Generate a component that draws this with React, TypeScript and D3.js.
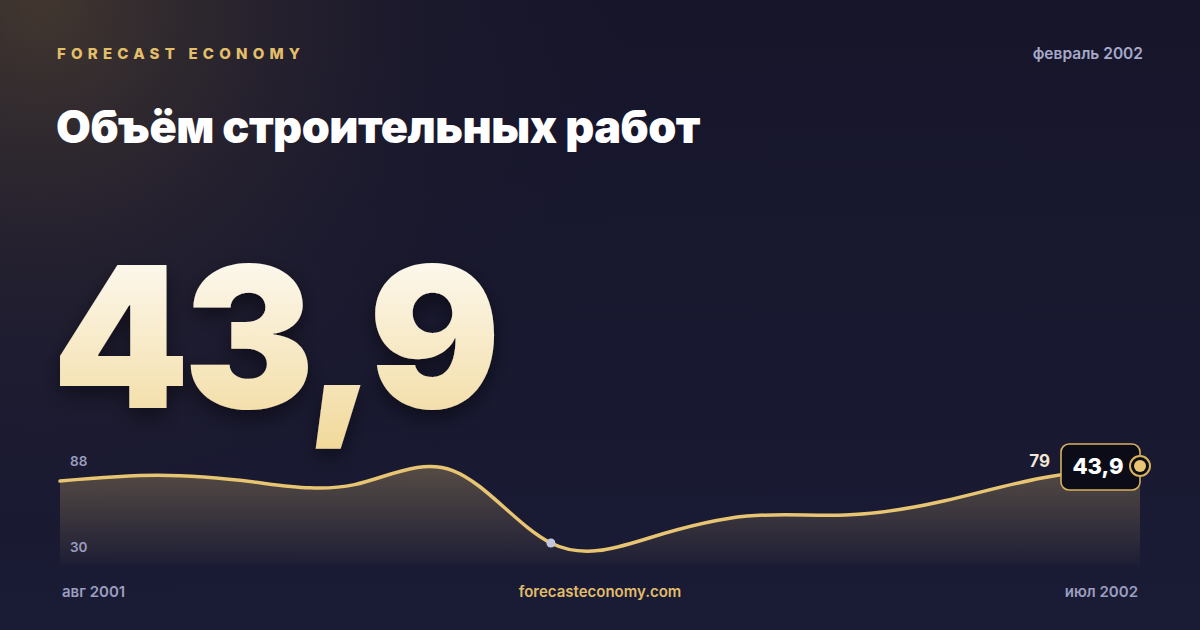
import React, { useEffect, useRef } from 'react';
import * as d3 from 'd3';

const MONTHS = ['авг 2001', 'сен 2001', 'окт 2001', 'ноя 2001', 'дек 2001', 'янв 2002', 'фев 2002', 'мар 2002', 'апр 2002', 'май 2002', 'июн 2002', 'июл 2002'];
const VALUES = [76.7, 81, 75.7, 74, 84.6, 30, 33.8, 50.3, 51.1, 61.6, 79, 88];
const HEADLINE = '43,9';
const TITLE = 'Объём строительных работ';
const BRAND = 'FORECAST ECONOMY';
const PERIOD = 'февраль 2002';
const SITE = 'forecasteconomy.com';

const W = 1200;
const H = 630;
const FONT = 'Inter, "Noto Sans", sans-serif';

export default function App() {
  const svgRef = useRef<SVGSVGElement>(null);

  useEffect(() => {
    if (!svgRef.current) return;
    const svg = d3.select(svgRef.current);
    svg.selectAll('*').remove();

    const defs = svg.append('defs');

    const bg = defs.append('linearGradient').attr('id', 'bg').attr('x1', 0).attr('y1', 0).attr('x2', 0).attr('y2', 1);
    bg.append('stop').attr('offset', '0%').attr('stop-color', '#16152a');
    bg.append('stop').attr('offset', '100%').attr('stop-color', '#1a1b35');

    const glow = defs.append('radialGradient').attr('id', 'glow')
      .attr('gradientUnits', 'userSpaceOnUse').attr('cx', 40).attr('cy', 0).attr('r', 620);
    glow.append('stop').attr('offset', '0%').attr('stop-color', '#4a3d30').attr('stop-opacity', 0.85);
    glow.append('stop').attr('offset', '55%').attr('stop-color', '#2a2430').attr('stop-opacity', 0.35);
    glow.append('stop').attr('offset', '100%').attr('stop-color', '#16152a').attr('stop-opacity', 0);

    const numGrad = defs.append('linearGradient').attr('id', 'num').attr('x1', 0).attr('y1', 0).attr('x2', 0).attr('y2', 1);
    numGrad.append('stop').attr('offset', '0%').attr('stop-color', '#ffffff');
    numGrad.append('stop').attr('offset', '100%').attr('stop-color', '#f1d898');

    const areaGrad = defs.append('linearGradient').attr('id', 'area').attr('x1', 0).attr('y1', 0).attr('x2', 0).attr('y2', 1);
    areaGrad.append('stop').attr('offset', '0%').attr('stop-color', '#e6c372').attr('stop-opacity', 0.3);
    areaGrad.append('stop').attr('offset', '100%').attr('stop-color', '#e6c372').attr('stop-opacity', 0.02);

    const shadow = defs.append('filter').attr('id', 'shadow').attr('x', '-10%').attr('y', '-10%').attr('width', '130%').attr('height', '140%');
    shadow.append('feDropShadow').attr('dx', 0).attr('dy', 8).attr('stdDeviation', 10)
      .attr('flood-color', '#000').attr('flood-opacity', 0.45);

    svg.append('rect').attr('width', W).attr('height', H).attr('fill', 'url(#bg)');
    svg.append('rect').attr('width', W).attr('height', H).attr('fill', 'url(#glow)');

    // header
    svg.append('text').attr('x', 57).attr('y', 59).attr('fill', '#e3bf6a')
      .attr('font-family', FONT).attr('font-size', 15).attr('font-weight', 800)
      .attr('letter-spacing', 5.2).text(BRAND);
    svg.append('text').attr('x', 1143).attr('y', 59).attr('text-anchor', 'end').attr('fill', '#a7a9c9')
      .attr('font-family', FONT).attr('font-size', 15.5).attr('font-weight', 600).text(PERIOD);
    svg.append('text').attr('x', 56).attr('y', 143).attr('fill', '#ffffff')
      .attr('font-family', FONT).attr('font-size', 45).attr('font-weight', 900)
      .attr('letter-spacing', -0.5).text(TITLE);

    svg.append('text').attr('x', 52).attr('y', 408).attr('fill', 'url(#num)').attr('filter', 'url(#shadow)')
      .attr('font-family', FONT).attr('font-size', 196).attr('font-weight', 900)
      .attr('letter-spacing', -6).text(HEADLINE);

    // sparkline
    const left = 60, right = 1140, bottom = 565;
    const x = d3.scalePoint<string>().domain(MONTHS).range([left, right]);
    const y = d3.scaleLinear().domain([30, 88]).range([543, 466]);

    const area = d3.area<number>()
      .x((_, i) => x(MONTHS[i])!)
      .y0(bottom)
      .y1(d => y(d))
      .curve(d3.curveNatural);
    const line = d3.line<number>()
      .x((_, i) => x(MONTHS[i])!)
      .y(d => y(d))
      .curve(d3.curveNatural);

    svg.append('path').datum(VALUES).attr('d', area).attr('fill', 'url(#area)');
    svg.append('path').datum(VALUES).attr('d', line).attr('fill', 'none')
      .attr('stroke', '#e8c572').attr('stroke-width', 3.5).attr('stroke-linecap', 'round');

    const maxV = d3.max(VALUES)!;
    const minV = d3.min(VALUES)!;
    const minI = VALUES.indexOf(minV);

    svg.append('text').attr('x', 70).attr('y', 466).attr('fill', '#9c9ec0')
      .attr('font-family', FONT).attr('font-size', 13.5).attr('font-weight', 600).text(String(maxV));
    svg.append('text').attr('x', 70).attr('y', 552).attr('fill', '#9c9ec0')
      .attr('font-family', FONT).attr('font-size', 13.5).attr('font-weight', 600).text(String(minV));

    svg.append('circle').attr('cx', x(MONTHS[minI])!).attr('cy', y(minV)).attr('r', 4.5).attr('fill', '#c3c7de');

    const lastI = VALUES.length - 1;
    const lx = x(MONTHS[lastI])!;
    const ly = y(VALUES[lastI]);
    const prev = VALUES[lastI - 1];

    svg.append('text').attr('x', 1050).attr('y', 467).attr('text-anchor', 'end').attr('fill', '#f1e7d2')
      .attr('font-family', FONT).attr('font-size', 17).attr('font-weight', 700).text(String(prev));

    svg.append('rect').attr('x', 1061).attr('y', 444).attr('width', 79).attr('height', 46).attr('rx', 8)
      .attr('fill', '#0b0c18').attr('stroke', '#d8b15c').attr('stroke-width', 1.6);
    svg.append('text').attr('x', 1098).attr('y', 474).attr('text-anchor', 'middle').attr('fill', '#ffffff')
      .attr('font-family', FONT).attr('font-size', 22).attr('font-weight', 800).text(HEADLINE);

    svg.append('circle').attr('cx', lx).attr('cy', ly).attr('r', 10).attr('fill', '#0b0c18')
      .attr('stroke', '#d8b15c').attr('stroke-width', 2);
    svg.append('circle').attr('cx', lx).attr('cy', ly).attr('r', 6).attr('fill', '#e8c572');

    // footer
    svg.append('text').attr('x', 62).attr('y', 597).attr('fill', '#9c9ec0')
      .attr('font-family', FONT).attr('font-size', 15).attr('font-weight', 600).text(MONTHS[0]);
    svg.append('text').attr('x', 600).attr('y', 597).attr('text-anchor', 'middle').attr('fill', '#e0bd6a')
      .attr('font-family', FONT).attr('font-size', 15).attr('font-weight', 600).text(SITE);
    svg.append('text').attr('x', 1138).attr('y', 597).attr('text-anchor', 'end').attr('fill', '#9c9ec0')
      .attr('font-family', FONT).attr('font-size', 15).attr('font-weight', 600).text(MONTHS[lastI]);
  }, []);

  return (
    <svg ref={svgRef} width={W} height={H} viewBox={`0 0 ${W} ${H}`}
      style={{ position: 'absolute', left: 0, top: 0, display: 'block' }} />
  );
}
